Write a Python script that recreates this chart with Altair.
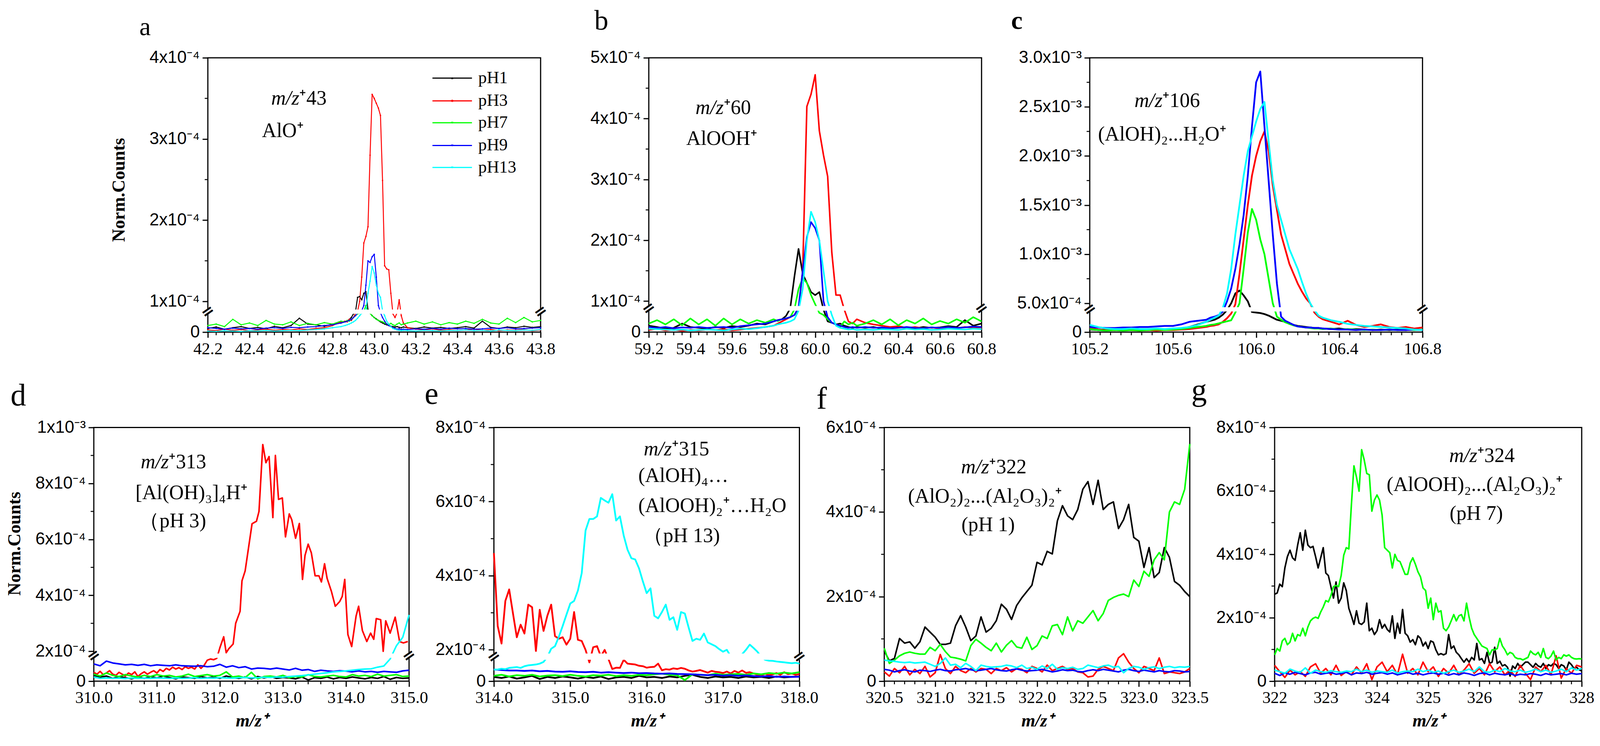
import altair as alt
import pandas as pd

SERIES = ["pH1", "pH3", "pH7", "pH9", "pH13"]
COLORS = ["#000000", "#ff0000", "#00ff00", "#0000ff", "#00ffff"]


def grid(a, b, step):
    n = int(round((b - a) / step)) + 1
    return [round(a + i * step, 3) for i in range(n)]


# ---------------- panel a : m/z 43 (units 1e-4) ----------------
A_X = grid(42.20, 42.84, 0.04) + grid(42.86, 43.14, 0.01) + grid(43.16, 43.80, 0.04)
A_BLACK = [0.10, 0.14, 0.08, 0.12, 0.15, 0.10, 0.13, 0.09, 0.16, 0.12, 0.18, 0.38, 0.22, 0.20, 0.16, 0.22, 0.25,
           0.28, 0.30, 0.35, 0.40, 0.50, 0.70, 1.05, 1.06, 1.02, 1.10, 1.12, 0.90, 0.55, 0.45, 0.40, 0.36, 0.32, 0.28,
           0.25, 0.22, 0.20, 0.18, 0.16, 0.15, 0.14, 0.15, 0.13, 0.12, 0.14,
           0.12, 0.10, 0.14, 0.11, 0.13, 0.10, 0.12, 0.15, 0.11, 0.30, 0.13, 0.10, 0.14, 0.12, 0.16, 0.13, 0.15]
A_RED = [0.06, 0.04, 0.08, 0.05, 0.07, 0.04, 0.06, 0.08, 0.05, 0.07, 0.06, 0.09, 0.07, 0.10, 0.12, 0.18, 0.28,
         0.30, 0.28, 0.35, 0.32, 0.40, 0.55, 0.75, 1.00, 1.30, 1.72, 1.80, 1.92, 2.80, 3.55, 3.50, 3.44, 3.38, 3.29,
         2.49, 1.44, 1.40, 1.39, 1.10, 0.50, 0.40, 0.60, 1.02, 0.45, 0.25,
         0.12, 0.08, 0.06, 0.09, 0.05, 0.07, 0.04, 0.06, 0.08, 0.05, 0.07, 0.04, 0.06, 0.05, 0.07, 0.04, 0.06]
A_GREEN = [0.18, 0.22, 0.15, 0.35, 0.20, 0.25, 0.18, 0.32, 0.22, 0.20, 0.28, 0.18, 0.24, 0.20, 0.26, 0.22, 0.30,
           0.28, 0.32, 0.30, 0.35, 0.40, 0.45, 0.50, 0.55, 0.62, 0.75, 0.95, 0.70, 0.55, 0.45, 0.40, 0.35, 0.32, 0.30,
           0.28, 0.25, 0.22, 0.20, 0.24, 0.20, 0.18, 0.22, 0.25, 0.20, 0.22,
           0.25, 0.30, 0.22, 0.28, 0.20, 0.26, 0.22, 0.30, 0.24, 0.35, 0.25, 0.22, 0.38, 0.26, 0.40, 0.28, 0.32]
A_BLUE = [0.12, 0.10, 0.08, 0.11, 0.09, 0.10, 0.08, 0.11, 0.12, 0.10, 0.13, 0.12, 0.14, 0.15, 0.18, 0.20, 0.25,
          0.28, 0.30, 0.32, 0.35, 0.40, 0.45, 0.55, 0.65, 0.80, 0.95, 1.20, 1.50, 1.48, 1.55, 1.58, 1.30, 0.95, 0.60,
          0.40, 0.30, 0.22, 0.18, 0.15, 0.12, 0.10, 0.08, 0.09, 0.07, 0.08,
          0.07, 0.09, 0.08, 0.10, 0.08, 0.11, 0.09, 0.10, 0.08, 0.09, 0.11, 0.10, 0.12, 0.09, 0.10, 0.11, 0.12]
A_CYAN = [0.03, 0.02, 0.04, 0.03, 0.02, 0.04, 0.03, 0.05, 0.03, 0.04, 0.05, 0.04, 0.06, 0.07, 0.09, 0.12, 0.15,
          0.18, 0.20, 0.22, 0.25, 0.28, 0.32, 0.38, 0.45, 0.55, 0.70, 0.90, 1.10, 1.25, 1.43, 1.35, 1.20, 1.10, 1.05,
          0.80, 0.45, 0.30, 0.22, 0.15, 0.10, 0.08, 0.06, 0.05, 0.04, 0.05,
          0.04, 0.03, 0.05, 0.04, 0.03, 0.05, 0.04, 0.06, 0.04, 0.05, 0.03, 0.06, 0.05, 0.04, 0.06, 0.05, 0.07]

# ---------------- panel b : m/z 60 (units 1e-4) ----------------
B_X = grid(59.20, 59.80, 0.04) + grid(59.82, 60.20, 0.02) + grid(60.24, 60.80, 0.04)
B_BLACK = [0.15, 0.12, 0.08, 0.10, 0.20, 0.12, 0.10, 0.08, 0.12, 0.10, 0.14, 0.12, 0.15, 0.20, 0.18, 0.25,
           0.28, 0.30, 0.38, 0.70, 1.40, 1.86, 1.45, 1.30, 1.15, 1.10, 1.15, 0.60, 0.25, 0.22, 0.18, 0.20, 0.15, 0.12, 0.10, 0.12,
           0.10, 0.12, 0.08, 0.10, 0.12, 0.10, 0.09, 0.12, 0.10, 0.11, 0.14, 0.12, 0.28, 0.15, 0.20]
B_RED = [0.05, 0.08, 0.04, 0.06, 0.03, 0.05, 0.04, 0.06, 0.05, 0.07, 0.04, 0.06, 0.08, 0.10, 0.12, 0.15,
         0.20, 0.25, 0.30, 0.35, 0.40, 0.60, 1.50, 4.20, 4.40, 4.72, 3.80, 3.40, 3.05, 1.80, 1.10, 1.10, 0.60, 0.25, 0.20, 0.30,
         0.22, 0.18, 0.15, 0.12, 0.14, 0.10, 0.12, 0.09, 0.11, 0.08, 0.10, 0.09, 0.12, 0.10, 0.11]
B_GREEN = [0.20, 0.28, 0.18, 0.30, 0.16, 0.32, 0.18, 0.30, 0.15, 0.32, 0.18, 0.30, 0.20, 0.28, 0.22, 0.30,
           0.26, 0.30, 0.32, 0.35, 0.60, 1.20, 1.38, 1.30, 1.10, 0.95, 0.45, 0.40, 0.30, 0.22, 0.18, 0.12, 0.25, 0.18, 0.22, 0.15,
           0.20, 0.28, 0.18, 0.30, 0.16, 0.28, 0.20, 0.32, 0.18, 0.26, 0.20, 0.30, 0.22, 0.35, 0.25]
B_BLUE = [0.12, 0.10, 0.12, 0.09, 0.11, 0.10, 0.12, 0.10, 0.11, 0.12, 0.10, 0.14, 0.16, 0.18, 0.20, 0.25,
          0.28, 0.30, 0.32, 0.35, 0.40, 0.80, 1.50, 2.05, 2.30, 2.20, 2.00, 1.00, 0.35, 0.22, 0.18, 0.15, 0.12, 0.10, 0.12, 0.10,
          0.12, 0.10, 0.11, 0.09, 0.10, 0.12, 0.10, 0.09, 0.11, 0.10, 0.12, 0.10, 0.11, 0.13, 0.12]
B_CYAN = [0.08, 0.07, 0.06, 0.05, 0.06, 0.04, 0.05, 0.06, 0.05, 0.04, 0.06, 0.08, 0.07, 0.09, 0.12, 0.15,
          0.18, 0.20, 0.22, 0.25, 0.30, 0.50, 1.20, 2.00, 2.47, 2.30, 2.00, 1.50, 1.00, 0.40, 0.15, 0.10, 0.08, 0.06, 0.07, 0.05,
          0.06, 0.05, 0.07, 0.06, 0.05, 0.08, 0.06, 0.07, 0.05, 0.06, 0.08, 0.07, 0.06, 0.08, 0.07]

# ---------------- panel c : m/z 106 (units 1e-3) ----------------
C_X = grid(105.20, 105.76, 0.04) + grid(105.78, 106.30, 0.02) + grid(106.32, 106.80, 0.04)
C_BLACK = [0.05, 0.04, 0.05, 0.04, 0.05, 0.04, 0.05, 0.04, 0.05, 0.05, 0.06, 0.07, 0.10, 0.15, 0.20,
           0.22, 0.24, 0.28, 0.34, 0.42, 0.50, 0.60, 0.63, 0.58, 0.52, 0.39, 0.38, 0.37, 0.35, 0.32, 0.28, 0.24,
           0.22, 0.20, 0.16, 0.14, 0.12, 0.11, 0.10, 0.09, 0.08, 0.08,
           0.07, 0.06, 0.07, 0.05, 0.06, 0.05, 0.04, 0.05, 0.04, 0.05, 0.04, 0.05, 0.04]
C_RED = [0.08, 0.05, 0.04, 0.04, 0.05, 0.04, 0.03, 0.04, 0.03, 0.04, 0.04, 0.05, 0.06, 0.08, 0.10,
         0.12, 0.13, 0.15, 0.20, 0.27, 0.36, 0.49, 0.80, 1.15, 1.50, 1.80, 2.00, 2.15, 2.25, 2.05, 1.70, 1.45,
         1.20, 1.05, 0.90, 0.80, 0.70, 0.62, 0.55, 0.50, 0.38, 0.30,
         0.25, 0.20, 0.15, 0.22, 0.14, 0.10, 0.12, 0.15, 0.10, 0.08, 0.10, 0.07, 0.09]
C_GREEN = [0.06, 0.04, 0.03, 0.04, 0.03, 0.04, 0.03, 0.04, 0.05, 0.04, 0.05, 0.06, 0.08, 0.10, 0.12,
           0.14, 0.15, 0.17, 0.19, 0.21, 0.23, 0.38, 0.50, 0.85, 1.22, 1.46, 1.35, 1.15, 1.00, 0.75, 0.50, 0.30,
           0.24, 0.19, 0.16, 0.13, 0.11, 0.10, 0.09, 0.08, 0.07, 0.07,
           0.06, 0.07, 0.05, 0.06, 0.05, 0.04, 0.05, 0.04, 0.05, 0.04, 0.05, 0.04, 0.05]
C_BLUE = [0.10, 0.09, 0.08, 0.08, 0.09, 0.09, 0.10, 0.10, 0.11, 0.12, 0.12, 0.15, 0.20, 0.22, 0.24,
          0.28, 0.30, 0.33, 0.40, 0.52, 0.65, 0.85, 1.10, 1.40, 1.80, 2.30, 2.75, 2.86, 2.30, 1.75, 1.20, 0.70,
          0.30, 0.22, 0.18, 0.14, 0.11, 0.10, 0.09, 0.09, 0.08, 0.08,
          0.07, 0.06, 0.05, 0.05, 0.04, 0.05, 0.04, 0.04, 0.05, 0.04, 0.04, 0.05, 0.04]
C_CYAN = [0.14, 0.10, 0.07, 0.06, 0.06, 0.07, 0.06, 0.06, 0.07, 0.06, 0.07, 0.08, 0.10, 0.14, 0.20,
          0.24, 0.28, 0.32, 0.45, 0.60, 0.85, 1.20, 1.50, 1.80, 2.05, 2.20, 2.35, 2.48, 2.55, 2.15, 1.75, 1.50,
          1.35, 1.20, 1.05, 0.95, 0.85, 0.72, 0.60, 0.50, 0.42, 0.32,
          0.28, 0.23, 0.20, 0.16, 0.14, 0.12, 0.11, 0.10, 0.09, 0.08, 0.07, 0.05, 0.04]

# ---------------- panel d : m/z 313 (units 1e-4) ----------------
D_X = grid(310.0, 315.0, 0.1)
D_RED_X = grid(310.0, 311.95, 0.05) + [
    312.00, 312.06, 312.10, 312.14, 312.21, 312.25, 312.32, 312.35, 312.40, 312.51,
    312.58, 312.62, 312.68, 312.73, 312.78, 312.84, 312.88, 312.93, 312.99, 313.04,
    313.10, 313.14, 313.20, 313.26, 313.31, 313.35, 313.40, 313.45, 313.51, 313.57,
    313.61, 313.66, 313.70, 313.77, 313.83, 313.90, 313.94, 313.98, 314.03, 314.09,
    314.16, 314.20, 314.26, 314.33, 314.39, 314.44, 314.48, 314.55, 314.59, 314.63,
    314.70, 314.78, 314.85, 314.91, 314.98]
D_RED = [0.38, 0.30, 0.42, 0.28, 0.35, 0.45, 0.30, 0.25, 0.38, 0.30,
         0.22, 0.35, 0.28, 0.40, 0.20, 0.32, 0.40, 0.30, 0.38, 0.45,
         0.35, 0.50, 0.42, 0.55, 0.48, 0.60, 0.52, 0.58, 0.50, 0.62,
         0.55, 0.60, 0.52, 0.70, 0.55, 0.68, 0.90, 0.95, 0.92, 0.98,
         2.13, 2.52, 1.95, 2.09, 2.26, 3.00, 3.43, 4.52, 4.87, 6.56,
         6.65, 7.00, 9.39, 8.74, 8.96, 6.78, 9.00, 7.43, 7.48, 6.09,
         6.91, 6.70, 6.04, 6.57, 4.57, 5.43, 5.83, 5.52, 4.70, 4.70,
         4.48, 5.13, 4.61, 4.13, 3.61, 3.78, 3.96, 4.57, 2.60, 2.17,
         3.26, 3.61, 2.74, 2.35, 2.65, 2.43, 3.17, 3.13, 2.00, 3.09,
         2.65, 3.22, 2.35, 2.30, 2.35]
D_BLACK = [0.25, 0.18, 0.22, 0.12, 0.20, 0.15, 0.10, 0.18, 0.12, 0.20, 0.14, 0.22, 0.16, 0.10, 0.18, 0.15, 0.12,
           0.20, 0.14, 0.18, 0.12, 0.22, 0.16, 0.12, 0.18, 0.10, 0.20, 0.14, 0.20, 0.12, 0.16, 0.14, 0.10, 0.18,
           0.05, 0.15, 0.12, 0.18, 0.10, 0.16, 0.12, 0.18, 0.14, 0.10, 0.16, 0.12, 0.20, 0.08, 0.16, 0.12, 0.14]
D_GREEN = [0.30, 0.22, 0.35, 0.25, 0.20, 0.28, 0.22, 0.18, 0.25, 0.20, 0.28, 0.22, 0.25, 0.18, 0.22, 0.30, 0.20,
           0.24, 0.28, 0.22, 0.25, 0.40, 0.18, 0.22, 0.15, 0.38, 0.10, 0.20, 0.22, 0.18, 0.25, 0.15, 0.20, 0.18,
           0.28, 0.20, 0.18, 0.22, 0.25, 0.20, 0.18, 0.28, 0.22, 0.25, 0.20, 0.30, 0.22, 0.25, 0.28, 0.20, 0.22]
D_BLUE = [0.74, 0.66, 0.86, 0.78, 0.74, 0.70, 0.72, 0.68, 0.72, 0.66, 0.70, 0.68, 0.66, 0.70, 0.66, 0.65, 0.64,
          0.66, 0.62, 0.64, 0.72, 0.60, 0.66, 0.58, 0.62, 0.52, 0.56, 0.55, 0.52, 0.56, 0.52, 0.48, 0.55, 0.47,
          0.50, 0.42, 0.47, 0.44, 0.42, 0.45, 0.43, 0.40, 0.44, 0.40, 0.42, 0.38, 0.42, 0.40, 0.38, 0.44, 0.47]
D_CYAN = [0.18, 0.12, 0.14, 0.12, 0.13, 0.11, 0.14, 0.12, 0.13, 0.12, 0.14, 0.13, 0.12, 0.14, 0.12, 0.13, 0.15,
          0.12, 0.14, 0.13, 0.15, 0.14, 0.13, 0.15, 0.16, 0.14, 0.15, 0.17, 0.16, 0.18, 0.17, 0.20, 0.22, 0.24,
          0.27, 0.30, 0.33, 0.36, 0.40, 0.42, 0.44, 0.47, 0.50, 0.52, 0.53, 0.60, 0.65, 0.95, 2.20, 2.50, 3.30]

# ---------------- panel e : m/z 315 (units 1e-4) ----------------
E_X = grid(314.0, 318.0, 0.1)
E_XF = grid(314.0, 318.0, 0.05)
E_CYAN = [0.54, 0.55, 0.58, 0.56, 0.62, 0.64, 0.66, 0.62, 0.70, 0.74, 0.76, 0.78, 0.82, 0.90, 1.40, 2.03, 2.10, 2.35, 2.64, 2.95,
          3.25, 3.32, 3.60, 4.07, 5.22, 5.53, 5.53, 5.60, 6.10, 6.03, 5.97, 6.20, 5.49, 5.60, 5.08, 4.70, 4.47, 4.44, 4.20, 3.85,
          3.53, 3.66, 2.92, 2.85, 3.02, 3.22, 2.81, 2.88, 2.54, 3.02, 2.98, 2.60, 2.24, 2.30, 2.27, 2.44, 2.20, 2.15, 2.10, 2.02,
          1.95, 2.00, 1.50, 1.40, 1.50, 1.80, 2.00, 2.14, 2.05, 1.95, 1.40, 1.00, 0.96, 0.95, 0.92, 0.90, 0.88, 0.86, 0.84, 0.86,
          0.82]
E_RED = [4.61, 2.64, 2.17, 3.32, 3.63, 2.98, 2.34, 2.68, 2.44, 3.22, 3.15, 1.97, 3.08, 2.51, 2.92, 3.22, 2.37, 2.30, 2.34, 2.14,
         2.30, 3.02, 2.27, 2.24, 2.00, 0.88, 2.07, 2.10, 1.50, 2.00, 1.10, 0.57, 0.63, 0.62, 1.00, 0.82, 0.80, 0.78, 0.72, 0.70,
         0.63, 0.66, 0.67, 0.82, 0.51, 0.56, 0.54, 0.60, 0.57, 0.62, 0.58, 0.50, 0.45, 0.48, 0.52, 0.46, 0.40, 0.48, 0.44, 0.42,
         0.38, 0.45, 0.36, 0.48, 0.40, 0.50, 0.39, 0.42, 0.36, 0.30, 0.27, 0.35, 0.28, 0.32, 0.38, 0.30, 0.42, 0.33, 0.36, 0.30,
         0.33]
E_BLUE = [0.55, 0.52, 0.50, 0.50, 0.48, 0.50, 0.46, 0.48, 0.45, 0.44, 0.46, 0.43, 0.42, 0.44, 0.40, 0.42, 0.40, 0.38, 0.40, 0.37,
          0.38, 0.36, 0.35, 0.36, 0.34, 0.33, 0.32, 0.30, 0.28, 0.30, 0.26, 0.28, 0.25, 0.27, 0.24, 0.22, 0.24, 0.20, 0.22, 0.20,
          0.21]
E_BLACK = [0.20, 0.15, 0.22, 0.12, 0.18, 0.25, 0.10, 0.20, 0.15, 0.22, 0.18, 0.12, 0.20, 0.15, 0.22, 0.10, 0.18, 0.20, 0.15, 0.25,
           0.18, 0.20, 0.15, 0.22, 0.18, 0.25, 0.30, 0.20, 0.15, 0.22, 0.18, 0.20, 0.15, 0.22, 0.18, 0.20, 0.15, 0.22, 0.18, 0.20,
           0.22]
E_GREEN = [0.25, 0.30, 0.22, 0.28, 0.25, 0.30, 0.22, 0.26, 0.28, 0.24, 0.30, 0.25, 0.22, 0.28, 0.26, 0.30, 0.24, 0.28, 0.25, 0.30,
           0.28, 0.32, 0.35, 0.30, 0.28, 0.05, 0.32, 0.30, 0.28, 0.35, 0.30, 0.32, 0.34, 0.30, 0.36, 0.32, 0.38, 0.35, 0.40, 0.36,
           0.42]

# ---------------- panel f : m/z 322 (units 1e-4) ----------------
F_X = grid(320.5, 323.5, 0.05)
F_BLACK = [0.72, 0.48, 0.54, 1.01, 0.90, 0.93, 0.78, 0.93, 1.28, 1.16, 1.04, 0.87, 0.87, 0.90, 1.31, 1.55, 1.28, 0.96, 1.07, 1.52,
           1.16, 1.25, 1.43, 1.82, 1.70, 1.46, 1.79, 1.97, 2.12, 2.27, 2.81, 2.75, 3.07, 3.01, 3.79, 4.15, 3.91, 3.82, 4.06, 4.54,
           4.72, 4.18, 4.75, 4.06, 4.18, 4.24, 3.61, 3.82, 4.18, 3.40, 3.31, 2.69, 3.16, 2.45, 2.57, 3.16, 2.93, 2.36, 2.27, 2.12,
           2.00]
F_GREEN = [0.78, 0.42, 0.50, 0.60, 0.66, 0.69, 0.66, 0.64, 0.64, 0.80, 0.72, 0.87, 0.70, 0.57, 0.55, 0.52, 0.48, 0.84, 0.99, 0.90,
           0.80, 0.72, 0.90, 0.69, 0.85, 0.96, 0.81, 0.78, 1.04, 0.75, 0.84, 1.07, 1.01, 1.31, 1.34, 1.10, 1.52, 1.19, 1.43, 1.37,
           1.52, 1.67, 1.43, 1.60, 1.91, 1.98, 2.03, 2.06, 2.00, 2.39, 2.24, 2.60, 2.48, 2.87, 3.04, 2.87, 4.00, 4.24, 4.18, 4.54,
           5.61]
F_RED = [0.22, 0.12, 0.30, 0.20, 0.35, 0.15, 0.28, 0.18, 0.35, 0.10, 0.20, 0.63, 0.30, 0.18, 0.35, 0.25, 0.20, 0.30, 0.22, 0.30,
         0.28, 0.18, 0.30, 0.25, 0.32, 0.22, 0.30, 0.28, 0.20, 0.35, 0.30, 0.22, 0.38, 0.25, 0.30, 0.35, 0.28, 0.30, 0.22, 0.20,
         0.10, 0.12, 0.28, 0.35, 0.30, 0.25, 0.55, 0.65, 0.45, 0.30, 0.20, 0.35, 0.30, 0.25, 0.55, 0.18, 0.22, 0.20, 0.18, 0.22,
         0.30]
F_BLUE = [0.28, 0.26, 0.22, 0.25, 0.27, 0.24, 0.22, 0.26, 0.25, 0.23, 0.26, 0.28, 0.25, 0.24, 0.27, 0.28, 0.30, 0.27, 0.25, 0.26,
          0.28, 0.30, 0.27, 0.25, 0.24, 0.27, 0.29, 0.26, 0.24, 0.25, 0.26, 0.28, 0.25, 0.22, 0.24, 0.27, 0.25, 0.26, 0.23, 0.22,
          0.25, 0.27, 0.25, 0.28, 0.26, 0.24, 0.22, 0.26, 0.28, 0.25, 0.23, 0.26, 0.24, 0.22, 0.25, 0.23, 0.22, 0.25, 0.24, 0.22,
          0.23]
F_CYAN = [0.50, 0.48, 0.47, 0.45, 0.44, 0.45, 0.43, 0.44, 0.45, 0.40, 0.35, 0.42, 0.55, 0.38, 0.40, 0.32, 0.42, 0.35, 0.25, 0.38,
          0.35, 0.33, 0.34, 0.35, 0.38, 0.36, 0.32, 0.38, 0.30, 0.33, 0.28, 0.36, 0.30, 0.40, 0.28, 0.32, 0.30, 0.33, 0.28, 0.30,
          0.38, 0.35, 0.32, 0.36, 0.38, 0.33, 0.35, 0.20, 0.30, 0.35, 0.33, 0.28, 0.32, 0.34, 0.30, 0.33, 0.35, 0.32, 0.34, 0.33,
          0.35]

# ---------------- panel g : m/z 324 (units 1e-4) ----------------
G_XF = grid(322.0, 328.0, 0.05)
G_X = grid(322.0, 328.0, 0.1)
G_GREEN = [0.83, 1.03, 0.95, 1.27, 1.35, 1.15, 1.23, 1.51, 1.27, 1.47, 1.43, 1.67, 1.43, 1.71, 1.90, 1.98, 2.02, 1.98, 2.18, 2.34,
           2.54, 2.50, 2.70, 2.98, 3.02, 2.98, 3.33, 3.97, 4.21, 4.17, 5.56, 6.79, 6.43, 5.99, 7.30, 6.98, 6.55, 6.51, 5.36, 5.71,
           5.87, 5.71, 5.24, 4.21, 4.13, 4.05, 3.57, 4.00, 3.81, 3.77, 3.57, 3.37, 3.37, 3.73, 3.89, 3.69, 3.45, 3.29, 2.94, 2.86,
           2.30, 2.62, 1.94, 2.46, 2.18, 2.22, 1.67, 1.59, 1.71, 1.90, 2.10, 1.90, 2.06, 2.10, 1.90, 2.46, 2.02, 1.67, 1.47, 1.35,
           1.23, 1.11, 1.07, 1.03, 0.83, 0.99, 0.99, 1.03, 1.35, 1.11, 0.99, 0.83, 0.91, 0.87, 0.75, 0.71, 0.71, 0.67, 0.71, 0.75,
           0.95, 0.87, 0.83, 0.91, 0.75, 1.03, 0.75, 0.71, 0.79, 0.95, 0.67, 0.75, 0.71, 0.83, 0.79, 0.83, 0.75, 0.71, 0.70, 0.71,
           0.70]
G_BLACK = [2.74, 2.78, 3.06, 2.98, 3.57, 3.93, 4.13, 3.89, 3.81, 4.29, 4.68, 4.13, 4.76, 4.29, 4.21, 4.25, 3.93, 3.57, 3.89, 4.21,
           3.41, 3.33, 2.98, 2.62, 3.13, 2.46, 2.62, 3.10, 2.86, 2.30, 2.06, 1.79, 2.22, 1.83, 1.79, 1.87, 2.46, 1.59, 1.67, 1.47,
           1.59, 1.94, 1.67, 1.79, 1.63, 1.55, 2.06, 1.35, 1.83, 1.51, 2.26, 1.51, 1.43, 1.23, 1.31, 1.15, 1.43, 1.35, 1.11, 1.23,
           1.03, 1.27, 1.23, 0.99, 0.83, 0.87, 0.83, 0.87, 1.47, 1.03, 1.11, 0.91, 0.83, 0.71, 0.60, 0.71, 0.60, 0.75, 0.67, 1.19,
           0.67, 0.71, 0.56, 0.91, 0.56, 0.60, 1.07, 0.56, 0.63, 0.48, 0.52, 0.44, 0.16, 0.48, 0.40, 0.56, 0.44, 0.52, 0.60, 0.60,
           0.52, 0.44, 0.56, 0.48, 0.44, 0.56, 0.40, 0.52, 0.48, 0.56, 0.52, 0.40, 0.52, 0.48, 0.36, 0.60, 0.52, 0.40, 0.44, 0.36,
           0.32]
G_RED = [0.50, 0.30, 0.12, 0.35, 0.20, 0.30, 0.15, 0.45, 0.55, 0.25, 0.40, 0.20, 0.50, 0.18, 0.30, 0.20, 0.45, 0.25, 0.55, 0.05,
         0.45, 0.60, 0.30, 0.50, 0.20, 0.85, 0.25, 0.40, 0.20, 0.60, 0.30, 0.45, 0.15, 0.40, 0.25, 0.50, 0.20, 0.35, 0.55, 0.25,
         0.40, 0.20, 0.55, 0.30, 0.45, 0.20, 0.35, 0.15, 0.50, 0.25, 0.05, 0.45, 0.30, 0.50, 0.20, 0.80, 0.10, 0.40, 0.25, 0.50,
         0.45]
G_BLUE = [0.25, 0.18, 0.26, 0.22, 0.28, 0.24, 0.20, 0.26, 0.28, 0.22, 0.25, 0.27, 0.22, 0.24, 0.28, 0.20, 0.26, 0.24, 0.28, 0.22,
          0.25, 0.27, 0.22, 0.26, 0.20, 0.24, 0.28, 0.22, 0.25, 0.20, 0.24, 0.26, 0.22, 0.25, 0.19, 0.24, 0.20, 0.26, 0.23, 0.18,
          0.24, 0.26, 0.20, 0.25, 0.22, 0.20, 0.24, 0.18, 0.22, 0.20, 0.24, 0.22, 0.18, 0.24, 0.20, 0.22, 0.24, 0.20, 0.25, 0.22,
          0.24]
G_CYAN = [0.35, 0.30, 0.25, 0.38, 0.32, 0.28, 0.42, 0.25, 0.35, 0.30, 0.28, 0.33, 0.30, 0.28, 0.32, 0.30, 0.38, 0.30, 0.35, 0.28,
          0.32, 0.30, 0.28, 0.35, 0.25, 0.30, 0.32, 0.30, 0.38, 0.30, 0.35, 0.28, 0.32, 0.25, 0.30, 0.35, 0.28, 0.32, 0.38, 0.30,
          0.45, 0.30, 0.28, 0.35, 0.30, 0.40, 0.32, 0.30, 0.35, 0.28, 0.32, 0.38, 0.30, 0.35, 0.28, 0.32, 0.38, 0.30, 0.42, 0.35,
          0.40]

# ---------------- tick labels ----------------
A_XTICKS = grid(42.2, 43.8, 0.2)
B_XTICKS = grid(59.2, 60.8, 0.2)
C_XTICKS = grid(105.2, 106.8, 0.4)
D_XTICKS = grid(310.0, 315.0, 1.0)
E_XTICKS = grid(314.0, 318.0, 1.0)
F_XTICKS = grid(320.5, 323.5, 0.5)
G_XTICKS = grid(322.0, 328.0, 1.0)

A_YT = [0, 1, 2, 3, 4]
A_YL = ["0", "1x10⁻⁴", "2x10⁻⁴", "3x10⁻⁴", "4x10⁻⁴"]
B_YT = [0, 1, 2, 3, 4, 5]
B_YL = ["0", "1x10⁻⁴", "2x10⁻⁴", "3x10⁻⁴", "4x10⁻⁴", "5x10⁻⁴"]
C_YT = [0, 0.5, 1.0, 1.5, 2.0, 2.5, 3.0]
C_YL = ["0", "5.0x10⁻⁴", "1.0x10⁻³", "1.5x10⁻³", "2.0x10⁻³", "2.5x10⁻³", "3.0x10⁻³"]
D_YT = [0, 2, 4, 6, 8, 10]
D_YL = ["0", "2x10⁻⁴", "4x10⁻⁴", "6x10⁻⁴", "8x10⁻⁴", "1x10⁻³"]
E_YT = [0, 2, 4, 6, 8]
E_YL = ["0", "2x10⁻⁴", "4x10⁻⁴", "6x10⁻⁴", "8x10⁻⁴"]
F_YT = [0, 2, 4, 6]
F_YL = ["0", "2x10⁻⁴", "4x10⁻⁴", "6x10⁻⁴"]
G_YT = [0, 2, 4, 6, 8]
G_YL = ["0", "2x10⁻⁴", "4x10⁻⁴", "6x10⁻⁴", "8x10⁻⁴"]

# annotations: (x, y, text, align, italic)
ANN_A = [(42.64, 3.50, "m/z", "right", True), (42.64, 3.50, "⁺43", "left", False),
         (42.46, 3.10, "AlO⁺", "left", False)]
ANN_B = [(59.56, 4.18, "m/z", "right", True), (59.56, 4.18, "⁺60", "left", False),
         (59.38, 3.67, "AlOOH⁺", "left", False)]
ANN_C = [(105.55, 2.56, "m/z", "right", True), (105.55, 2.56, "⁺106", "left", False),
         (105.24, 2.22, "(AlOH)₂...H₂O⁺", "left", False)]
ANN_D = [(311.19, 8.76, "m/z", "right", True), (311.19, 8.76, "⁺313", "left", False),
         (310.66, 7.66, "[Al(OH)₃]₄H⁺", "left", False), (310.72, 6.66, "（pH 3)", "left", False)]
ANN_E = [(316.33, 7.41, "m/z", "right", True), (316.33, 7.41, "⁺315", "left", False),
         (315.89, 6.70, "(AlOH)₄…", "left", False), (315.89, 5.89, "(AlOOH)₂⁺…H₂O", "left", False),
         (315.95, 5.07, "（pH 13)", "left", False)]
ANN_F = [(321.53, 5.06, "m/z", "right", True), (321.53, 5.06, "⁺322", "left", False),
         (321.49, 4.37, "(AlO₂)₂...(Al₂O₃)₂⁺", "center", False), (321.52, 3.69, "(pH 1)", "center", False)]
ANN_G = [(325.96, 7.10, "m/z", "right", True), (325.96, 7.10, "⁺324", "left", False),
         (325.91, 6.19, "(AlOOH)₂...(Al₂O₃)₂⁺", "center", False), (325.94, 5.28, "(pH 7)", "center", False)]

LEG_Y = [3.75, 3.47, 3.20, 2.92, 2.65]
LEG_X0, LEG_XM, LEG_X1, LEG_XT = 43.28, 43.375, 43.47, 43.50
LEG_SHAPES = ["triangle-up", "circle", "triangle-down", "triangle-down", "triangle-down"]

SERIF = "Liberation Serif"
SANS = "Liberation Sans"


def minor(lo, hi, step, majors):
    return [v for v in grid(lo, hi, step) if all(abs(v - m) > 1e-6 for m in majors)]


def label_expr(vals, labels):
    expr = "''"
    for v, l in reversed(list(zip(vals, labels))):
        expr = f"abs(datum.value - {v}) < 1e-6 ? '{l}' : ({expr})"
    return expr


def panel(series, xdom, ydom, yrange, W, H, xvals, xfmt, xminor, yvals, ylabels, yminor,
          ann, letter, ldx, ldy, lsize, lweight, ytitle=None, ytx=0, yty=0, xtitle=None,
          lw=4.0, points=False, legend=False, afont=50):
    rows = []
    for name, xs, ys in series:
        assert len(xs) == len(ys), (letter, name, len(xs), len(ys))
        for a, b in zip(xs, ys):
            rows.append({"x": a, "y": b, "s": name})
    df = pd.DataFrame(rows)
    xsc = alt.Scale(domain=xdom, nice=False, zero=False)
    if yrange:
        ysc = alt.Scale(domain=ydom, range=yrange, nice=False, zero=False)
    else:
        ysc = alt.Scale(domain=ydom, nice=False, zero=False)

    xkw = dict(values=xvals, format=xfmt, labelFlush=False, labelOverlap=False, labelFont=SERIF,
               labelFontSize=43, labelPadding=8, tickSize=14)
    if xtitle:
        xkw.update(title=xtitle, titleFont=SERIF, titleFontStyle="italic", titleFontWeight="bold",
                   titleFontSize=46, titleY=102, titleBaseline="middle", titleColor="black")
    else:
        xkw.update(title="")
    ykw = dict(values=yvals, labelExpr=label_expr(yvals, ylabels), labelOverlap=False, labelFlush=False,
               labelFont=SANS, labelFontSize=44, labelPadding=7, tickSize=14)
    if ytitle:
        ykw.update(title=ytitle, titleFont=SERIF, titleFontWeight="bold", titleFontSize=46, titleX=ytx,
                   titleY=yty, titleAngle=270, titleAlign="center", titleBaseline="middle", titleColor="black")
    else:
        ykw.update(title="")
    XA = alt.Axis(**xkw)
    YA = alt.Axis(**ykw)

    def X(f):
        return alt.X(f, scale=xsc, axis=XA)

    def Y(f):
        return alt.Y(f, scale=ysc, axis=YA)

    color = alt.Color("s:N", scale=alt.Scale(domain=SERIES, range=COLORS), legend=None)
    if points:
        mk = alt.Chart(df).mark_line(strokeWidth=lw, strokeJoin="round",
                                     point=alt.OverlayMarkDef(filled=True, size=14))
    else:
        mk = alt.Chart(df).mark_line(strokeWidth=lw, strokeJoin="round")
    layers = [mk.encode(x=X("x:Q"), y=Y("y:Q"), color=color)]

    if yrange:
        lo, hi = ydom[1], ydom[2]
        mask = alt.Chart(pd.DataFrame({"lo": [lo], "hi": [hi]})).mark_rect(color="white").encode(
            y=Y("lo:Q"), y2="hi:Q", x=alt.value(-12), x2=alt.value(W + 12))
        brk = alt.Chart(pd.DataFrame({"x": [xdom[0], xdom[1]], "y": [(lo + hi) / 2] * 2})).mark_text(
            text="=", angle=325, fontSize=40, fontWeight="bold", font="DejaVu Sans", color="black").encode(
            x=X("x:Q"), y=Y("y:Q"))
        layers += [mask, brk]

    groups = {}
    for (x, y, t, al, it) in ann:
        groups.setdefault((al, it), []).append({"x": x, "y": y, "t": t})
    for (al, it), recs in groups.items():
        layers.append(alt.Chart(pd.DataFrame(recs)).mark_text(
            align=al, baseline="middle", font=SERIF, fontSize=afont, color="black",
            fontStyle="italic" if it else "normal").encode(x=X("x:Q"), y=Y("y:Q"), text="t:N"))

    if legend:
        ldf = pd.DataFrame({"s": SERIES, "y": LEG_Y, "x0": [LEG_X0] * 5, "xm": [LEG_XM] * 5,
                            "x1": [LEG_X1] * 5, "xt": [LEG_XT] * 5, "sh": LEG_SHAPES})
        layers.append(alt.Chart(ldf).mark_rule(strokeWidth=3).encode(
            x=X("x0:Q"), x2="x1:Q", y=Y("y:Q"), color=color))
        layers.append(alt.Chart(ldf).mark_point(filled=True, size=40).encode(
            x=X("xm:Q"), y=Y("y:Q"), color=color,
            shape=alt.Shape("sh:N", scale=None, legend=None)))
        layers.append(alt.Chart(ldf).mark_text(align="left", baseline="middle", font=SERIF, fontSize=44,
                                               color="black").encode(x=X("xt:Q"), y=Y("y:Q"), text="s:N"))

    layers.append(alt.Chart(pd.DataFrame({"v": xminor})).mark_rule(strokeWidth=2.5, color="black").encode(
        x=X("v:Q"), y=alt.value(H), y2=alt.value(H + 8)))
    layers.append(alt.Chart(pd.DataFrame({"v": yminor})).mark_rule(strokeWidth=2.5, color="black").encode(
        y=Y("v:Q"), x=alt.value(0), x2=alt.value(-8)))

    return alt.layer(*layers).properties(
        width=W, height=H,
        title=alt.TitleParams(text=letter, anchor="start", frame="group", dx=ldx, dy=ldy, offset=0,
                              baseline="alphabetic", font=SERIF, fontSize=lsize, fontWeight=lweight,
                              color="black", orient="top"))


TOP_H = 705
BOT_H = 652

pa = panel([("pH1", A_X, A_BLACK), ("pH3", A_X, A_RED), ("pH7", A_X, A_GREEN), ("pH9", A_X, A_BLUE), ("pH13", A_X, A_CYAN)],
           [42.2, 43.8], [0, 0.5, 0.9, 4.0], [TOP_H, 658, 647, 0], 855, TOP_H,
           A_XTICKS, ".1f", minor(42.2, 43.8, 0.04, A_XTICKS), A_YT, A_YL, [1.5, 2.5, 3.5],
           ANN_A, "a", -176, 30, 66, "normal", ytitle="Norm.Counts", ytx=-228, yty=339,
           lw=2.5, points=True, legend=True, afont=52)
pb = panel([("pH1", B_X, B_BLACK), ("pH3", B_X, B_RED), ("pH7", B_X, B_GREEN), ("pH9", B_X, B_BLUE), ("pH13", B_X, B_CYAN)],
           [59.2, 60.8], [0, 0.5, 0.92, 5.0], [TOP_H, 650, 638, 0], 855, TOP_H,
           B_XTICKS, ".1f", minor(59.2, 60.8, 0.04, B_XTICKS), B_YT, B_YL, [1.5, 2.5, 3.5, 4.5],
           ANN_B, "b", -140, 22, 72, "normal", lw=4.0, afont=52)
pc = panel([("pH1", C_X, C_BLACK), ("pH3", C_X, C_RED), ("pH7", C_X, C_GREEN), ("pH9", C_X, C_BLUE), ("pH13", C_X, C_CYAN)],
           [105.2, 106.8], [0, 0.4, 0.46, 3.0], [TOP_H, 652, 641, 0], 855, TOP_H,
           C_XTICKS, ".1f", minor(105.2, 106.8, 0.05, C_XTICKS), C_YT, C_YL, [0.75, 1.25, 1.75, 2.25, 2.75],
           ANN_C, "c", -202, 14, 66, "bold", lw=4.5, afont=52)
pd_ = panel([("pH1", D_X, D_BLACK), ("pH3", D_RED_X, D_RED), ("pH7", D_X, D_GREEN), ("pH9", D_X, D_BLUE), ("pH13", D_X, D_CYAN)],
            [310.0, 315.0], [0, 1.0, 1.92, 10.0], [BOT_H, 592, 581, 0], 810, BOT_H,
            D_XTICKS, ".1f", minor(310.0, 315.0, 0.2, D_XTICKS), D_YT, D_YL, [3, 5, 7, 9],
            ANN_D, "d", -214, 45, 80, "normal", ytitle="Norm.Counts", ytx=-203, yty=298, xtitle="m/z⁺",
            lw=4.0, afont=52)
pe = panel([("pH1", E_X, E_BLACK), ("pH3", E_XF, E_RED), ("pH7", E_X, E_GREEN), ("pH9", E_X, E_BLUE), ("pH13", E_XF, E_CYAN)],
           [314.0, 318.0], [0, 1.0, 1.9, 8.0], [BOT_H, 597, 581, 0], 785, BOT_H,
           E_XTICKS, ".1f", minor(314.0, 318.0, 0.2, E_XTICKS), E_YT, E_YL, [3, 5, 7],
           ANN_E, "e", -178, 41, 80, "normal", xtitle="m/z⁺", lw=4.5, afont=52)
pf = panel([("pH1", F_X, F_BLACK), ("pH3", F_X, F_RED), ("pH7", F_X, F_GREEN), ("pH9", F_X, F_BLUE), ("pH13", F_X, F_CYAN)],
           [320.5, 323.5], [0, 6.0], None, 785, BOT_H,
           F_XTICKS, ".1f", minor(320.5, 323.5, 0.1, F_XTICKS), F_YT, F_YL, [1, 3, 5],
           ANN_F, "f", -174, 54, 80, "normal", xtitle="m/z⁺", lw=4.0, afont=52)
pg = panel([("pH1", G_XF, G_BLACK), ("pH3", G_X, G_RED), ("pH7", G_XF, G_GREEN), ("pH9", G_X, G_BLUE), ("pH13", G_X, G_CYAN)],
           [322.0, 328.0], [0, 8.0], None, 789, BOT_H,
           G_XTICKS, "d", minor(322.0, 328.0, 0.2, G_XTICKS), G_YT, G_YL, [1, 3, 5, 7],
           ANN_G, "g", -214, 32, 80, "normal", xtitle="m/z⁺", lw=4.0, afont=52)

spacer = alt.Chart(pd.DataFrame({"v": [0]})).mark_point(opacity=0).encode(
    x=alt.value(0), y=alt.value(0)).properties(
    width=15, height=10, view=alt.ViewBackground(strokeOpacity=0, fillOpacity=0))

top = alt.hconcat(spacer, pa, pb, pc, spacing=278, bounds="flush")
bottom = alt.hconcat(pd_, pe, pf, pg, spacing=218, bounds="flush")

chart = alt.vconcat(top, bottom, spacing=42).configure_view(
    stroke="black", strokeWidth=3
).configure_axis(
    domain=False, grid=False, ticks=True, tickColor="black", tickWidth=3,
    labelColor="black"
)

chart.save("out.html", embed_options={"renderer": "svg", "actions": False})
